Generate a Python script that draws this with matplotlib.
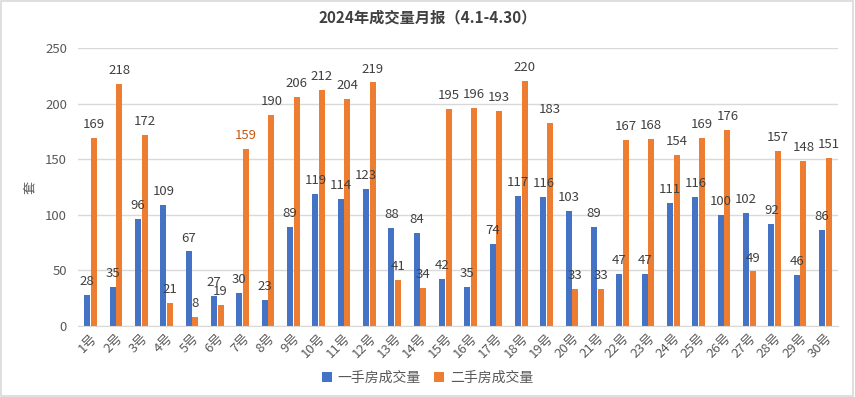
import matplotlib
matplotlib.use('Agg')
from matplotlib import pyplot as plt
from matplotlib.patches import Rectangle
import numpy as np

plt.rcParams['font.family'] = ['Noto Sans CJK SC', 'DejaVu Sans']

days = [str(i) + '号' for i in range(1, 31)]
first_hand = [28, 35, 96, 109, 67, 27, 30, 23, 89, 119, 114, 123, 88, 84, 42,
              35, 74, 117, 116, 103, 89, 47, 47, 111, 116, 100, 102, 92, 46, 86]
second_hand = [169, 218, 172, 21, 8, 19, 159, 190, 206, 212, 204, 219, 41, 34, 195,
               196, 193, 220, 183, 33, 33, 167, 168, 154, 169, 176, 49, 157, 148, 151]
series_names = ['一手房成交量', '二手房成交量']

blue = '#4472c4'
orange = '#ed7d31'
txt = '#404040'

fig = plt.figure(figsize=(8.55, 3.97), dpi=100)
fig.patches.append(Rectangle((0.001, 0.002), 0.997, 0.995, transform=fig.transFigure,
                             fill=False, edgecolor='#d9d9d9', linewidth=1.2))
ax = fig.add_axes([0.0912, 0.179, 0.889, 0.700])

x = np.arange(len(days))
w = 0.24
b1 = ax.bar(x - 0.13, first_hand, w, color=blue, label=series_names[0], zorder=2)
b2 = ax.bar(x + 0.13, second_hand, w, color=orange, label=series_names[1], zorder=2)

for rect, v in zip(b1, first_hand):
    ax.annotate(str(v), (rect.get_x() + rect.get_width() / 2, v), xytext=(0, 5),
                textcoords='offset points', ha='center', va='bottom',
                fontsize=9.5, color=txt)
for i, (rect, v) in enumerate(zip(b2, second_hand)):
    c = '#c55a11' if i == 6 else txt
    ax.annotate(str(v), (rect.get_x() + rect.get_width() / 2, v), xytext=(0, 5),
                textcoords='offset points', ha='center', va='bottom',
                fontsize=9.5, color=c)

ax.set_xlim(-0.5, len(days) - 0.5)
ax.set_ylim(0, 250)
ax.set_yticks(range(0, 251, 50))
ax.yaxis.grid(True, color='#d9d9d9', linewidth=1, zorder=0)
ax.set_axisbelow(True)
for s in ['top', 'right', 'left']:
    ax.spines[s].set_visible(False)
ax.spines['bottom'].set_color('#d9d9d9')
ax.tick_params(axis='both', length=0, labelsize=9.5, colors='#595959')
ax.tick_params(axis='x', pad=4)
ax.tick_params(axis='y', pad=8)
ax.set_xticks(x)
ax.set_xticklabels(days, rotation=45, ha='right', rotation_mode='anchor')
ax.set_ylabel('套', fontsize=9.5, color='#595959', labelpad=6)

fig.suptitle('2024年成交量月报（4.1-4.30）', x=0.5, y=0.975, fontsize=11,
             fontweight='bold', color='#404040')

fig.legend(handles=[b1, b2], labels=series_names, loc='center', ncol=2,
           bbox_to_anchor=(0.5, 0.048), frameon=False, fontsize=10,
           handlelength=0.7, handleheight=0.7, handletextpad=0.4, columnspacing=1.0,
           labelcolor='#595959')

fig.savefig('out.png', dpi=100)
